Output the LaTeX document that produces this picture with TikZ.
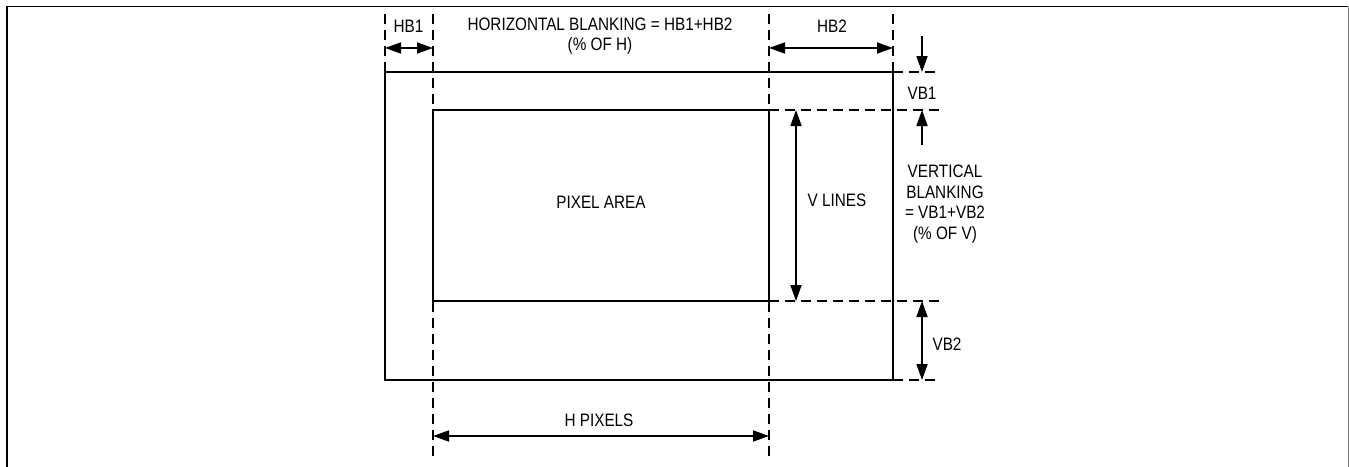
\documentclass[tikz,border=0pt]{standalone}
\usepackage{fontspec}
\setmainfont{Liberation Sans}[FakeStretch=0.85]
\usetikzlibrary{arrows.meta}
\begin{document}
\begin{tikzpicture}[x=1pt,y=-1pt,
  lbl/.style={font=\fontsize{18}{20.5}\selectfont, inner sep=0pt, align=center},
  boxline/.style={line width=2.8pt},
  guide/.style={line width=1.6pt, dash pattern=on 10pt off 6pt},
  dimarrow/.style={line width=1.8pt, {Triangle[length=16pt,width=11pt]}-{Triangle[length=16pt,width=11pt]}},
  onearrow/.style={line width=1.8pt, -{Triangle[length=16pt,width=11pt]}}
]
\useasboundingbox (0,0) rectangle (1349,466);
% frame
\draw[line width=1.5pt] (7,470) -- (7,6.5) -- (1348,6.5);
\draw[gray, line width=1pt] (1348,6.5) -- (1348,470);

% key coordinates
\coordinate (oTL) at (385,72);
\coordinate (oBR) at (893,380);
\coordinate (iTL) at (433,110);
\coordinate (iBR) at (769,301);

% guide lines (dashed)
\coordinate (g1t) at (385,14);   \coordinate (g1b) at (385,72);
\coordinate (g2t) at (433,14);   \coordinate (g2b) at (433,460);
\coordinate (g3t) at (769,14);   \coordinate (g3b) at (769,460);
\coordinate (g4t) at (893,14);   \coordinate (g4b) at (893,72);
\coordinate (h1l) at (893,72);   \coordinate (h1r) at (937,72);
\coordinate (h2l) at (769,110);  \coordinate (h2r) at (943,110);
\coordinate (h3l) at (769,301);  \coordinate (h3r) at (943,301);
\coordinate (h4l) at (893,380);  \coordinate (h4r) at (937,380);
\draw[guide] (g1t) -- (g1b);
\draw[guide] (g2t) -- (g2b);
\draw[guide] (g3t) -- (g3b);
\draw[guide] (g4t) -- (g4b);
\draw[guide] (h1l) -- (h1r);
\draw[guide] (h2l) -- (h2r);
\draw[guide] (h3l) -- (h3r);
\draw[guide] (h4l) -- (h4r);

% rectangles
\draw[boxline] (oTL) rectangle (oBR);
\draw[boxline, fill=white] (iTL) rectangle (iBR);

% dimension arrows
\coordinate (hb1a) at (385,48); \coordinate (hb1b) at (433,48);
\draw[dimarrow] (hb1a) -- (hb1b);
\coordinate (hb2a) at (769,48); \coordinate (hb2b) at (893,48);
\draw[dimarrow] (hb2a) -- (hb2b);
\coordinate (hpa) at (433,436); \coordinate (hpb) at (769,436);
\draw[dimarrow] (hpa) -- (hpb);
\coordinate (vla) at (796,110); \coordinate (vlb) at (796,301);
\draw[dimarrow] (vla) -- (vlb);
\coordinate (vb2a) at (922,301); \coordinate (vb2b) at (922,380);
\draw[dimarrow] (vb2a) -- (vb2b);
\coordinate (vb1s) at (922,36); \coordinate (vb1e) at (922,72);
\draw[onearrow] (vb1s) -- (vb1e);
\coordinate (vb1s2) at (922,145); \coordinate (vb1e2) at (922,110);
\draw[onearrow] (vb1s2) -- (vb1e2);

% labels
\node[lbl] (thb1) at (408.5,26) {HB1};
\node[lbl] (thb) at (600,36) {HORIZONTAL BLANKING = HB1+HB2\\(\% OF H)};
\node[lbl] (thb2) at (832,26) {HB2};
\node[lbl] (tvb1) at (922,93) {VB1};
\node[lbl] (tpix) at (601,202) {PIXEL AREA};
\node[lbl] (tvl) at (837,200) {V LINES};
\node[lbl] (tvb) at (945,204) {VERTICAL\\BLANKING\\= VB1+VB2\\(\% OF V)};
\node[lbl] (tvb2) at (947,344) {VB2};
\node[lbl] (thp) at (599,420) {H PIXELS};
\end{tikzpicture}
\end{document}
